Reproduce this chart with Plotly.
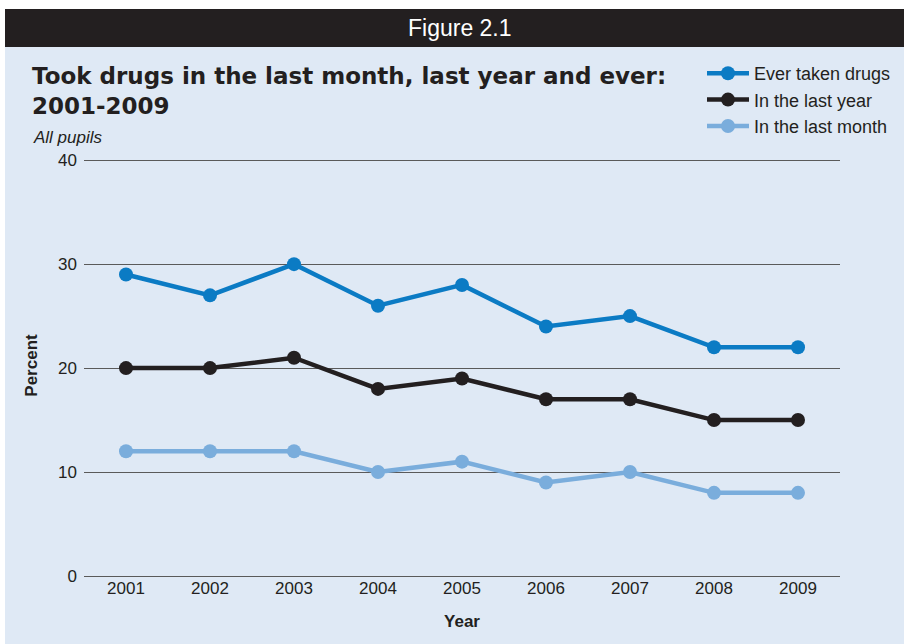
import plotly.graph_objects as go

# Survey years and the share of pupils (percent) in each group
years = ["2001", "2002", "2003", "2004", "2005", "2006", "2007", "2008", "2009"]
ever_taken = [29, 27, 30, 26, 28, 24, 25, 22, 22]
last_year = [20, 20, 21, 18, 19, 17, 17, 15, 15]
last_month = [12, 12, 12, 10, 11, 9, 10, 8, 8]

y_ticks = [0, 10, 20, 30, 40]

W, H = 904, 644
L, R, T, B = 84, 64, 155, 68
PW, PH = W - L - R, H - T - B


def px(x):
    return (x - L) / PW


def py(y):
    return (H - B - y) / PH


BG = "#dfe9f5"
DARK = "#231f20"
BLUE = "#0b7bc4"
LIGHT = "#7aaddc"
TXT = "#231f20"
FONT = "Liberation Sans, Arial, sans-serif"

fig = go.Figure()
series = [
    ("Ever taken drugs", ever_taken, BLUE),
    ("In the last year", last_year, DARK),
    ("In the last month", last_month, LIGHT),
]
for name, vals, col in series:
    fig.add_trace(go.Scatter(
        x=years, y=vals, name=name, mode="lines+markers",
        line=dict(color=col, width=4.5),
        marker=dict(color=col, size=14),
    ))

shapes = [
    # light panel
    dict(type="rect", xref="paper", yref="paper", x0=px(5), x1=px(904),
         y0=py(644), y1=py(47), fillcolor=BG, line_width=0, layer="below"),
    # heading band
    dict(type="rect", xref="paper", yref="paper", x0=px(5), x1=px(904),
         y0=py(47), y1=py(9), fillcolor=DARK, line_width=0, layer="below"),
]

annotations = [
    dict(text="Figure 2.1", xref="paper", yref="paper", x=px(460), y=py(28),
         xanchor="center", yanchor="middle", showarrow=False,
         font=dict(family="Liberation Sans Narrow, Arial Narrow, sans-serif", size=23, color="white")),
    dict(text="Took drugs in the last month, last year and ever:<br>2001-2009",
         xref="paper", yref="paper", x=px(30), y=py(61), xanchor="left", yanchor="top",
         align="left", showarrow=False,
         font=dict(family="DejaVu Sans, sans-serif", size=23, color=TXT, weight="bold")),
    dict(text="<i>All pupils</i>", xref="paper", yref="paper", x=px(31), y=py(137),
         xanchor="left", yanchor="middle", showarrow=False,
         font=dict(family=FONT, size=17, color=TXT)),
]

fig.update_layout(
    width=W, height=H,
    margin=dict(l=L, r=R, t=T, b=B, autoexpand=False),
    paper_bgcolor="white",
    plot_bgcolor="rgba(0,0,0,0)",
    font=dict(family=FONT, size=17, color=TXT),
    shapes=shapes,
    annotations=annotations,
    showlegend=True,
    legend=dict(
        x=px(702), y=py(55), xanchor="left", yanchor="top",
        bgcolor="rgba(0,0,0,0)", font=dict(size=18, color=TXT),
        itemwidth=42, tracegroupgap=0,
    ),
    xaxis=dict(
        type="category", range=[-0.5, 8.5], showgrid=False, zeroline=False,
        showline=False, ticks="", tickfont=dict(size=17, color=TXT),
        title=dict(text="<b>Year</b>", font=dict(size=17, color=TXT), standoff=18),
    ),
    yaxis=dict(
        range=[0, 40.5], tickvals=y_ticks, showgrid=True, gridcolor="#5a5a5a",
        gridwidth=1.3, zeroline=True, zerolinecolor="#5a5a5a", zerolinewidth=1.3,
        showline=False, ticks="", tickfont=dict(size=17, color=TXT),
        ticklabelstandoff=6,
        title=dict(text="<b>Percent</b>", font=dict(size=17, color=TXT), standoff=16),
    ),
)

fig.write_html("out.html")
